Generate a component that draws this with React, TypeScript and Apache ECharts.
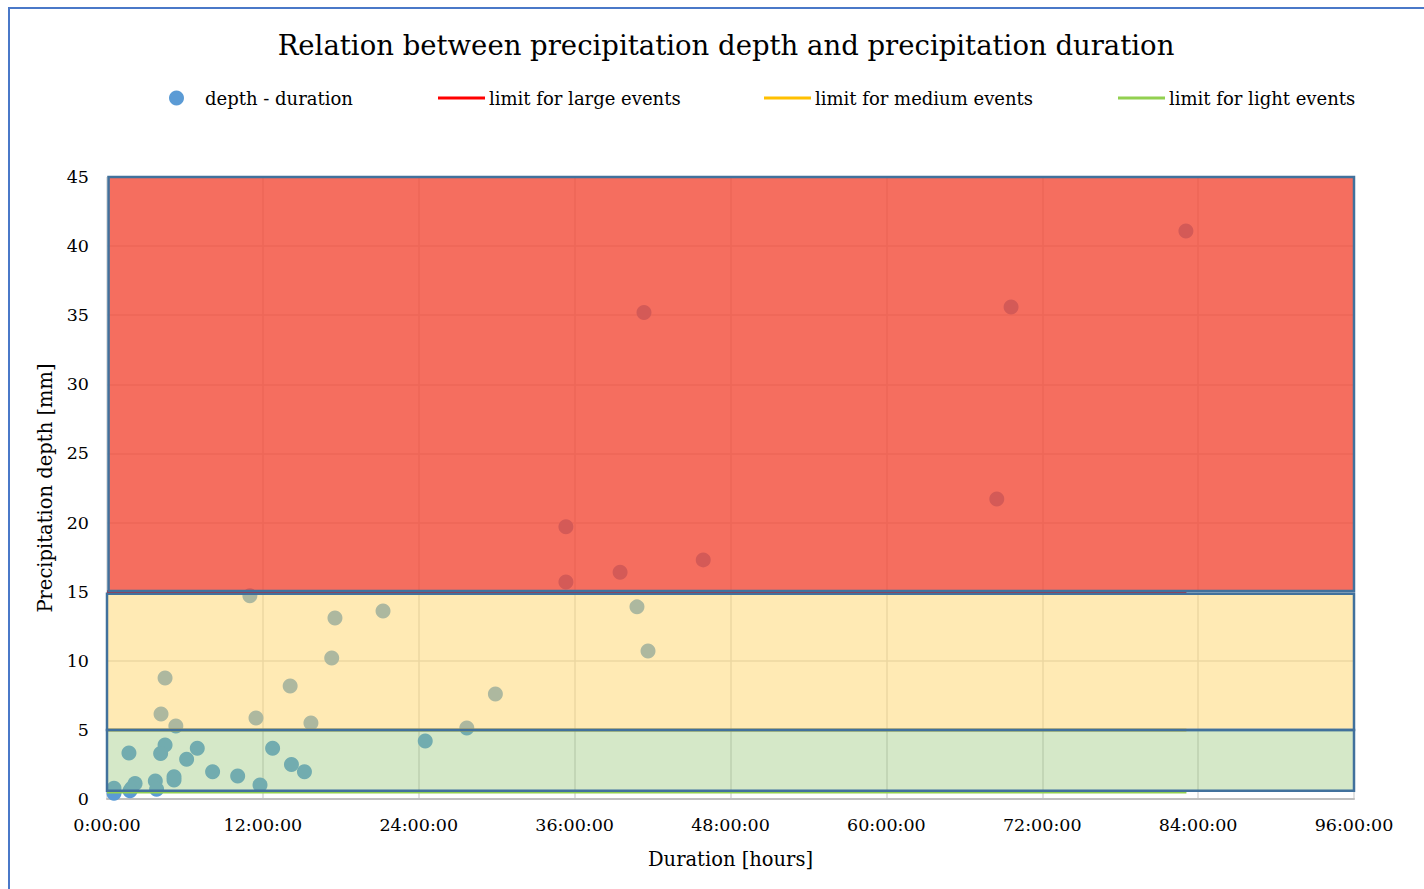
import React, { useEffect, useRef } from "react";
import * as echarts from "echarts";

const titleText = "Relation between precipitation depth and precipitation duration";
const xTicksHours = [0, 12, 24, 36, 48, 60, 72, 84, 96];
const yTicks = [0, 5, 10, 15, 20, 25, 30, 35, 40, 45];

// measured events: duration in hours, depth in mm
const durationHours = [
  83.06, 69.6, 41.34, 35.33, 68.5, 45.9, 39.5, 35.33,
  11.0, 17.55, 21.25, 40.8, 17.3, 41.65, 4.47, 14.1, 29.9, 4.16, 11.47, 15.7, 5.3, 27.7,
  1.69, 4.47, 4.13, 6.13, 6.95, 8.13, 10.06, 11.78, 12.75, 14.2, 15.2, 24.5,
  5.16, 5.16, 3.72, 3.82, 2.16, 1.9, 1.77, 0.54, 0.54,
];
const depthMm = [
  41.1, 35.6, 35.2, 19.7, 21.7, 17.3, 16.4, 15.7,
  14.7, 13.1, 13.6, 13.9, 10.2, 10.7, 8.75, 8.18, 7.6, 6.15, 5.86, 5.5, 5.28, 5.14,
  3.33, 3.9, 3.3, 2.87, 3.67, 1.98, 1.66, 1.01, 3.67, 2.5, 1.98, 4.2,
  1.61, 1.37, 1.3, 0.7, 1.13, 0.77, 0.6, 0.77, 0.41,
];

// limit lines
const limitNames = ["limit for large events", "limit for medium events", "limit for light events"];
const limitDepths = [15, 5, 0.5];
const limitEndHour = 83.1;
const limitColors = ["#ff0000", "#ffc000", "#92d050"];

// shaded zones [lowDepth, highDepth]
const zoneLow = [15.05, 5.0, 0.6];
const zoneHigh = [45, 14.85, 5.0];
const zoneColors = ["rgba(242,74,55,0.8)", "rgba(255,213,105,0.5)", "rgba(150,198,118,0.4)"];

const FONT = "DejaVu Serif";

export default function App() {
  const ref = useRef<HTMLDivElement>(null);
  useEffect(() => {
    if (!ref.current) return;
    const chart = echarts.init(ref.current, null, { renderer: "svg" });
    const points = durationHours.map((h, i) => [h, depthMm[i]]);
    const legendLefts = [159, 428, 754, 1108];
    const allNames = ["depth - duration", ...limitNames];
    const legends = allNames.map((n, i) => ({
      data: [n],
      left: legendLefts[i],
      top: 77,
      padding: 0,
      itemWidth: i === 0 ? 15 : 47,
      itemHeight: i === 0 ? 15 : 3,
      icon: i === 0 ? "circle" : "rect",
      selectedMode: false,
      textStyle: {
        fontFamily: FONT,
        fontSize: 18,
        color: "#000",
        lineHeight: 24,
        padding: i === 0 ? [0, 0, 0, 16] : [0, 0, 0, -1],
      },
    }));
    chart.setOption({
      animation: false,
      backgroundColor: "#fff",
      title: {
        text: titleText,
        left: 711,
        textAlign: "center",
        top: 17,
        textStyle: { fontFamily: FONT, fontSize: 27.5, fontWeight: "normal", color: "#000" },
      },
      legend: legends,
      grid: { left: 97, top: 168, width: 1247, height: 622 },
      xAxis: {
        type: "value",
        min: 0,
        max: 96,
        interval: 12,
        axisLine: { show: true, lineStyle: { color: "#bfbfbf", width: 2 } },
        axisTick: { show: false },
        splitLine: { show: true, lineStyle: { color: "#d9d9d9", width: 1.5 } },
        axisLabel: {
          fontFamily: FONT,
          fontSize: 17.5,
          color: "#000",
          margin: 17,
          formatter: (v: number) => (xTicksHours.includes(v) ? `${v}:00:00` : ""),
        },
        name: "Duration [hours]",
        nameLocation: "middle",
        nameGap: 50,
        nameTextStyle: { fontFamily: FONT, fontSize: 19.5, color: "#000" },
      },
      yAxis: {
        type: "value",
        min: 0,
        max: 45,
        interval: 5,
        axisLine: { show: false },
        axisTick: { show: false },
        splitLine: { show: true, lineStyle: { color: "#d9d9d9", width: 1.5 } },
        axisLabel: {
          fontFamily: FONT,
          fontSize: 17.5,
          color: "#000",
          margin: 18,
          formatter: (v: number) => (yTicks.includes(v) ? String(v) : ""),
        },
        name: "Precipitation depth [mm]",
        nameLocation: "middle",
        nameGap: 52,
        nameTextStyle: { fontFamily: FONT, fontSize: 19.5, color: "#000" },
      },
      series: [
        {
          name: "depth - duration",
          type: "scatter",
          data: points,
          symbolSize: 15,
          itemStyle: { color: "#5b9bd5", opacity: 1 },
          z: 2,
        },
        ...limitNames.map((n, i) => ({
          name: n,
          type: "line",
          data: [
            [0, limitDepths[i]],
            [limitEndHour, limitDepths[i]],
          ],
          symbol: "none",
          lineStyle: { color: limitColors[i], width: 3 },
          itemStyle: { color: limitColors[i] },
          z: 3,
        })),
        {
          name: "zones",
          type: "line",
          data: [],
          z: 10,
          markArea: {
            silent: true,
            z: 10,
            data: zoneLow.map((lo, i) => [
              {
                xAxis: i === 0 ? 0.12 : 0,
                yAxis: zoneHigh[i],
                itemStyle: {
                  color: zoneColors[i],
                  borderColor: "#41719c",
                  borderWidth: 2.5,
                },
              },
              { xAxis: 96, yAxis: lo },
            ]),
          },
        },
      ],
    });
    return () => chart.dispose();
  }, []);
  return (
    <div
      ref={ref}
      style={{
        position: "fixed",
        left: 8,
        top: 7,
        width: 1440,
        height: 900,
        borderLeft: "2px solid #4a78c8",
        borderTop: "2px solid #4a78c8",
        boxSizing: "content-box",
      }}
    />
  );
}
